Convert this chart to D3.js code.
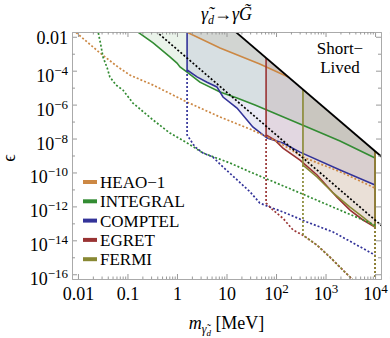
<!DOCTYPE html>
<html lang="en">
<head>
<meta charset="utf-8">
<title>Dark photino decay limits</title>
<script src="https://cdn.jsdelivr.net/npm/d3@7"></script>
<style>
  body { margin: 0; background: white; font-family: "Liberation Serif", "Times New Roman", Times, serif; }
  svg { display: block; }
  svg text { font-family: "Liberation Serif", "Times New Roman", Times, serif; }
</style>
</head>
<body>
<script>
// values, [mass in MeV, epsilon]
var shortLived = [[10, 5.6e-2], [1.6e4, 5.6e-10]];
var blackDotted = [[0.25, 5.9e-2], [1.6e4, 4.8e-14]];

var heaoSolid = [[1.15, 2.9e-2], [7.4, 2.2e-3], [47, 2.45e-4], [240, 2.8e-5]];
var heaoDotted = [[0.008, 2.5e-2], [0.028, 1.1e-3], [0.064, 1.66e-4], [0.112, 5.5e-5], [0.33, 1.41e-5],
  [1.6, 1.41e-6], [7.4, 1.86e-7], [30, 3.6e-8], [120, 5.5e-9], [350, 8.1e-10], [2250, 9.3e-11], [1e4, 1.2e-11]];

var integralSolid = [[0.124, 3.3e-2], [0.33, 4.3e-3], [0.72, 6.5e-4], [1.0, 2.8e-4], [1.15, 1.66e-4],
  [1.6, 8.3e-5], [2.9, 2.1e-5], [7.4, 5.5e-6], [16.3, 2.45e-6], [37.6, 9.5e-7], [305, 7.2e-8],
  [1960, 7.1e-9], [1e4, 7.1e-10]];
var integralDotted = [[0.024, 4.9e-2], [0.029, 3.2e-3], [0.032, 6.5e-4], [0.039, 1.45e-4], [0.044, 4.3e-5],
  [0.059, 1.41e-5], [0.081, 7.2e-6], [0.129, 1.23e-6], [0.33, 1.23e-7], [0.72, 2.1e-8], [1.6, 5.5e-9],
  [3.35, 1.41e-9], [11.8, 3.6e-10], [30, 1.07e-10], [305, 6.2e-12], [1960, 6.0e-13], [1e4, 7.9e-14]];

var comptelSolid = [[1.6, 4.9e-2], [1.6, 1.1e-4], [2.54, 4.3e-5], [4.04, 2.1e-5], [6.4, 1.1e-5],
  [8.5, 2.8e-6], [16.3, 6.3e-7], [34, 4.8e-8], [66, 1.07e-8], [138, 5.5e-9], [305, 1.58e-9],
  [1960, 1.38e-10], [1e4, 1.82e-11]];
var comptelDotted = [[1.6, 1.1e-4], [1.6, 1.62e-8], [2.31, 3.2e-9], [3.35, 1.41e-9], [5.3, 8.1e-10],
  [8.5, 2.1e-10], [14.9, 4.7e-11], [30, 7.1e-12], [47, 1.58e-12], [75, 9.1e-13], [138, 4.7e-13],
  [423, 1.2e-13], [1420, 3.1e-14], [1e4, 1.35e-15]];

var egretSolid = [[63, 9.8e-2], [63, 1.62e-8], [95, 8.1e-9], [138, 2.75e-9], [305, 5.4e-10],
  [673, 7.1e-11], [1700, 3.5e-12], [3120, 6.0e-13], [5700, 1.58e-13], [1e4, 6.0e-14], [1e4, 1e-2]];
var egretDotted = [[63, 1.62e-8], [63, 1.58e-12], [87, 6.0e-13], [138, 2.0e-13], [220, 4.1e-14],
  [350, 2.0e-14], [673, 5.2e-15], [1230, 1.02e-15], [1960, 2.6e-16], [3120, 6.8e-17], [4970, 1.74e-17]];
var egretEdge = [[1e4, 6.0e-14], [1e4, 1e-17]];

var fermiSolid = [[350, 6.3e-4], [350, 2.75e-10], [673, 5.4e-11], [1420, 6.2e-12], [3120, 9.1e-13],
  [5700, 2.35e-13], [9080, 7.9e-14], [1e4, 6.0e-14], [1e4, 1e-2]];
var fermiDotted = [[350, 2.75e-10], [350, 2.0e-14], [673, 5.2e-15], [1230, 1.02e-15], [1960, 2.6e-16],
  [3120, 6.8e-17], [4970, 1.74e-17]];
var fermiEdge = [[1e4, 6.0e-14], [1e4, 1e-17]];

var names = ["HEAO-1", "INTEGRAL", "COMPTEL", "EGRET", "FERMI"];
var colors = ["#cc8844", "#338c33", "#333399", "#993333", "#888833"];

var xMajor = [0.01, 0.1, 1, 10, 100, 1000, 10000];
var xLabels = [["0.01", ""], ["0.1", ""], ["1", ""], ["10", ""], ["10", "2"], ["10", "3"], ["10", "4"]];
var yMajor = [1e-2, 1e-4, 1e-6, 1e-8, 1e-10, 1e-12, 1e-14, 1e-16];
var yLabels = [["0.01", ""], ["10", "\u22124"], ["10", "\u22126"], ["10", "\u22128"], ["10", "\u221210"],
  ["10", "\u221212"], ["10", "\u221214"], ["10", "\u221216"]];
var yOdd = [1e-3, 1e-5, 1e-7, 1e-9, 1e-11, 1e-13, 1e-15];

var experiments = names.map(function(n, i) {
  return {
    name: n, color: colors[i],
    solid: [heaoSolid, integralSolid, comptelSolid, egretSolid, fermiSolid][i],
    dotted: [[heaoDotted], [integralDotted], [comptelDotted], [egretDotted, egretEdge], [fermiDotted, fermiEdge]][i]
  };
});

var W = 390, H = 338;
var pLeft = 72, pRight = 381, pTop = 32, pBottom = 279;
var serif = "'Liberation Serif', 'Times New Roman', Times, serif";

var x = d3.scaleLog().domain([Math.pow(10, -2.12), Math.pow(10, 4.12)]).range([pLeft, pRight]);
var y = d3.scaleLog().domain([Math.pow(10, -16.28), Math.pow(10, -1.72)]).range([pBottom, pTop]);

var svg = d3.select("body").append("svg").attr("width", W).attr("height", H)
  .attr("font-family", serif);
var line = d3.line().x(function(d) { return x(d[0]); }).y(function(d) { return y(d[1]); });

var defs = svg.append("defs");
defs.append("clipPath").attr("id", "frame").append("rect")
  .attr("x", pLeft).attr("y", pTop).attr("width", pRight - pLeft).attr("height", pBottom - pTop);
// area below the short-lived boundary
var p0 = [x(shortLived[0][0]), y(shortLived[0][1])], p1 = [x(shortLived[1][0]), y(shortLived[1][1])];
defs.append("clipPath").attr("id", "below").append("polygon")
  .attr("points", [[pLeft - 20, pBottom + 20], [pLeft - 20, -200], p0, p1, [W + 20, pBottom + 20]].join(" "));

var plot = svg.append("g").attr("clip-path", "url(#frame)");
var inner = plot.append("g").attr("clip-path", "url(#below)");

// excluded regions
inner.selectAll("path.fill").data(experiments).enter().append("path")
  .attr("class", "fill")
  .attr("d", function(e) {
    var s = e.solid;
    return line(s.concat([[s[s.length - 1][0], 1], [s[0][0], 1]])) + "Z";
  })
  .attr("fill", function(e) { return e.color; })
  .attr("fill-opacity", 0.1)
  .attr("stroke", "none");

// dotted lines
experiments.forEach(function(e) {
  e.dotted.forEach(function(pts) {
    plot.append("path").attr("d", line(pts))
      .attr("fill", "none").attr("stroke", e.color)
      .attr("stroke-width", 1.7).attr("stroke-dasharray", "2,2");
  });
});

// solid boundaries
inner.selectAll("path.solid").data(experiments).enter().append("path")
  .attr("class", "solid")
  .attr("d", function(e) { return line(e.solid); })
  .attr("fill", "none")
  .attr("stroke", function(e) { return e.color; })
  .attr("stroke-width", 1.6);

plot.append("path").attr("d", line(blackDotted))
  .attr("fill", "none").attr("stroke", "#000").attr("stroke-width", 1.7).attr("stroke-dasharray", "2,2");
plot.append("path").attr("d", line(shortLived))
  .attr("fill", "none").attr("stroke", "#000").attr("stroke-width", 1.8);

// frame and ticks
var xMinor = [];
xMajor.forEach(function(v) { for (var k = 2; k < 10; k++) xMinor.push(v * k); });

function drawAxis(axis, tx, ty) {
  var g = svg.append("g").attr("transform", "translate(" + tx + "," + ty + ")").call(axis);
  g.attr("font-family", serif);
  g.select(".domain").attr("stroke", "#aaa");
  g.selectAll(".tick line").attr("stroke", "#999");
  g.selectAll(".tick text").remove();
  return g;
}
function noText() { return ""; }

var xb = drawAxis(d3.axisBottom(x).tickValues(xMajor).tickSize(-5).tickSizeOuter(0).tickFormat(noText), 0, pBottom);
drawAxis(d3.axisBottom(x).tickValues(xMinor).tickSize(-2.5).tickSizeOuter(0).tickFormat(noText), 0, pBottom);
drawAxis(d3.axisTop(x).tickValues(xMajor).tickSize(-5).tickSizeOuter(0).tickFormat(noText), 0, pTop);
drawAxis(d3.axisTop(x).tickValues(xMinor).tickSize(-2.5).tickSizeOuter(0).tickFormat(noText), 0, pTop);
var yl = drawAxis(d3.axisLeft(y).tickValues(yMajor).tickSize(-5).tickSizeOuter(0).tickFormat(noText), pLeft, 0);
drawAxis(d3.axisLeft(y).tickValues(yOdd).tickSize(-3).tickSizeOuter(0).tickFormat(noText), pLeft, 0);
drawAxis(d3.axisRight(y).tickValues(yMajor).tickSize(-5).tickSizeOuter(0).tickFormat(noText), pRight, 0);
drawAxis(d3.axisRight(y).tickValues(yOdd).tickSize(-3).tickSizeOuter(0).tickFormat(noText), pRight, 0);

xb.selectAll(".tick").each(function(d, i) {
  var t = d3.select(this).append("text").attr("y", 21).attr("text-anchor", "middle")
    .attr("fill", "#000").style("font-size", "18px").style("font-family", serif);
  t.append("tspan").text(xLabels[i][0]);
  if (xLabels[i][1]) t.append("tspan").attr("dy", -7).style("font-size", "13px").text(xLabels[i][1]);
});
yl.selectAll(".tick").each(function(d, i) {
  var sup = yLabels[i][1];
  var t = d3.select(this).append("text").attr("x", -4).attr("y", sup ? 10.5 : 6.5)
    .attr("text-anchor", "end").attr("fill", "#000").style("font-size", "18px").style("font-family", serif);
  t.append("tspan").text(yLabels[i][0]);
  if (sup) t.append("tspan").attr("dy", -7).style("font-size", "13px").text(sup);
});

// title and axis labels
var title = svg.append("text").attr("x", (pLeft + pRight) / 2).attr("y", 20)
  .attr("text-anchor", "middle").style("font-size", "18px").style("font-family", serif);
title.append("tspan").style("font-style", "italic").text("\u03b3\u0303");
title.append("tspan").attr("dy", 4).style("font-size", "12px").style("font-style", "italic").text("d");
title.append("tspan").attr("dy", -4).text("\u2192");
title.append("tspan").style("font-style", "italic").text("\u03b3G\u0303");

var xl = svg.append("text").attr("x", (pLeft + pRight) / 2).attr("y", 329)
  .attr("text-anchor", "middle").style("font-size", "18px").style("font-family", serif);
xl.append("tspan").style("font-style", "italic").text("m");
xl.append("tspan").attr("dy", 4).style("font-size", "12px").style("font-style", "italic").text("\u03b3\u0303");
xl.append("tspan").attr("dy", 3).style("font-size", "9px").style("font-style", "italic").text("d");
xl.append("tspan").attr("dy", -7).text("  [MeV]");

svg.append("text").attr("transform", "translate(15,158) rotate(-90)")
  .attr("text-anchor", "middle").style("font-size", "18px").style("font-family", serif).text("\u03f5");

svg.append("text").attr("x", 340).attr("y", 54).attr("text-anchor", "middle")
  .style("font-size", "17px").style("font-family", serif).text("Short\u2212");
svg.append("text").attr("x", 340).attr("y", 73).attr("text-anchor", "middle")
  .style("font-size", "17px").style("font-family", serif).text("Lived");

// legend
var leg = svg.append("g").selectAll("g").data(experiments).enter().append("g")
  .attr("transform", function(d, i) { return "translate(83," + (182 + i * 19.3) + ")"; });
leg.append("line").attr("x1", 0).attr("x2", 14).attr("y1", 0).attr("y2", 0)
  .attr("stroke", function(d) { return d.color; }).attr("stroke-width", 4);
leg.append("text").attr("x", 17).attr("y", 6).style("font-size", "17px").style("font-family", serif)
  .text(function(d) { return d.name.replace("-", "\u2212"); });
</script>
</body>
</html>
